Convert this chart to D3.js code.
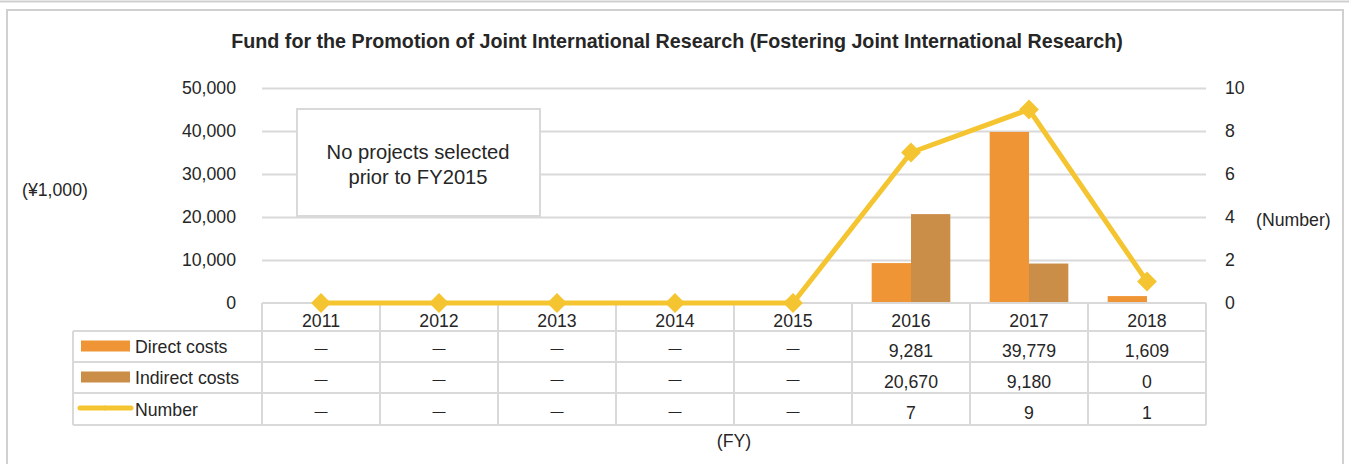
<!DOCTYPE html>
<html>
<head>
<meta charset="utf-8">
<script src="https://cdn.jsdelivr.net/npm/d3@7"></script>
<style>
    body { margin: 0; background: #fff; }
    svg { display: block; font-family: "Liberation Sans", Arial, sans-serif; }
    .tick text { fill: #262626; font-size: 17.7px; }
</style>
</head>
<body>
<svg id="chart" width="1349" height="464"></svg>
<script>
    const years = ["2011", "2012", "2013", "2014", "2015", "2016", "2017", "2018"];
    const directCosts = [null, null, null, null, null, 9281, 39779, 1609];
    const indirectCosts = [null, null, null, null, null, 20670, 9180, 0];
    const numbers = [0, 0, 0, 0, 0, 7, 9, 1];
    const leftTicks = [0, 10000, 20000, 30000, 40000, 50000];
    const rightTicks = [0, 2, 4, 6, 8, 10];

    const colors = {direct: "#EF9535", indirect: "#CB8E48", number: "#F5C531", grid: "#D9D9D9", text: "#262626"};
    const fs = 17.7;

    const svg = d3.select("#chart");
    const plot = {left: 262, right: 1206, top: 88, bottom: 303};

    // outer frame
    svg.append("line").attr("x1", 0).attr("x2", 1349).attr("y1", 1.5).attr("y2", 1.5)
        .attr("stroke", "#cfcfcf").attr("stroke-width", 2);
    svg.append("rect").attr("x", 7).attr("y", 10).attr("width", 1336).attr("height", 470)
        .attr("fill", "none").attr("stroke", "#d0d0d0").attr("stroke-width", 2);

    svg.append("text").attr("x", 677).attr("y", 48).attr("text-anchor", "middle")
        .attr("font-size", 19.7).attr("font-weight", "bold").attr("fill", colors.text)
        .text("Fund for the Promotion of Joint International Research (Fostering Joint International Research)");

    const x = d3.scaleBand().domain(years).range([plot.left, plot.right]);
    const xInner = d3.scaleBand().domain(["direct", "indirect"]).range([0, x.bandwidth()]).paddingInner(0).paddingOuter(0.5);
    const yLeft = d3.scaleLinear().domain([0, 50000]).range([plot.bottom, plot.top]);
    const yRight = d3.scaleLinear().domain([0, 10]).range([plot.bottom, plot.top]);

    // gridlines
    svg.append("g").selectAll("line").data(leftTicks.slice(1)).join("line")
        .attr("x1", plot.left).attr("x2", plot.right)
        .attr("y1", d => Math.round(yLeft(d)) + 0.5).attr("y2", d => Math.round(yLeft(d)) + 0.5)
        .attr("stroke", colors.grid).attr("stroke-width", 2);

    const leftAxis = svg.append("g").attr("transform", `translate(${plot.left - 26},0)`)
        .call(d3.axisLeft(yLeft).tickValues(leftTicks).tickSize(0).tickPadding(0).tickFormat(d3.format(",")));
    leftAxis.select(".domain").remove();

    const rightAxis = svg.append("g").attr("transform", `translate(${plot.right + 19},0)`)
        .call(d3.axisRight(yRight).tickValues(rightTicks).tickSize(0).tickPadding(0));
    rightAxis.select(".domain").remove();

    svg.append("text").attr("x", 22).attr("y", 196).attr("font-size", fs).attr("fill", colors.text).text("(¥1,000)");
    svg.append("text").attr("x", 1256).attr("y", 226).attr("font-size", fs).attr("fill", colors.text).text("(Number)");

    // annotation box
    svg.append("rect").attr("x", 297).attr("y", 109).attr("width", 243).attr("height", 107)
        .attr("fill", "#fff").attr("stroke", colors.grid).attr("stroke-width", 2);
    svg.append("text").attr("x", 418).attr("y", 159).attr("text-anchor", "middle").attr("font-size", 20.2)
        .attr("fill", colors.text).text("No projects selected");
    svg.append("text").attr("x", 418).attr("y", 184).attr("text-anchor", "middle").attr("font-size", 20.2)
        .attr("fill", colors.text).text("prior to FY2015");

    // bars
    const barData = [];
    years.forEach((yr, i) => {
        if (directCosts[i] !== null) barData.push({year: yr, key: "direct", value: directCosts[i]});
        if (indirectCosts[i] !== null) barData.push({year: yr, key: "indirect", value: indirectCosts[i]});
    });
    svg.append("g").selectAll("rect").data(barData).join("rect")
        .attr("x", d => x(d.year) + xInner(d.key))
        .attr("width", xInner.bandwidth())
        .attr("y", d => yLeft(d.value))
        .attr("height", d => plot.bottom - yLeft(d.value))
        .attr("fill", d => colors[d.key]);

    // table
    const rowTops = [303, 331, 362, 393, 425];
    const table = svg.append("g").attr("stroke", colors.grid).attr("stroke-width", 2).attr("fill", "none");
    table.append("line").attr("x1", plot.left).attr("x2", plot.right).attr("y1", 303).attr("y2", 303);
    rowTops.slice(1).forEach(y => {
        table.append("line").attr("x1", 73).attr("x2", plot.right).attr("y1", y).attr("y2", y);
    });
    years.forEach(yr => {
        table.append("line").attr("x1", x(yr)).attr("x2", x(yr)).attr("y1", 303).attr("y2", 425);
    });
    table.append("line").attr("x1", plot.right).attr("x2", plot.right).attr("y1", 303).attr("y2", 425);
    table.append("line").attr("x1", 73).attr("x2", 73).attr("y1", 331).attr("y2", 425);

    const xAxis = svg.append("g").attr("transform", `translate(0,327)`)
        .call(d3.axisBottom(x).tickSize(0).tickPadding(0));
    xAxis.select(".domain").remove();
    xAxis.selectAll(".tick text").attr("dy", 0);

    const fmt = d3.format(",");
    const rows = [
        {label: "Direct costs", values: directCosts, type: "direct"},
        {label: "Indirect costs", values: indirectCosts, type: "indirect"},
        {label: "Number", values: numbers.map((v, i) => directCosts[i] === null ? null : v), type: "number"}
    ];
    rows.forEach((row, r) => {
        const cy = (rowTops[r + 1] + rowTops[r + 2]) / 2;
        const g = svg.append("g");
        if (row.type === "number") {
            g.append("line").attr("x1", 80).attr("x2", 131).attr("y1", cy - 1).attr("y2", cy - 1)
                .attr("stroke", colors.number).attr("stroke-width", 5).attr("stroke-linecap", "round");
            g.append("path").attr("d", d3.symbol(d3.symbolDiamond2, 20)())
                .attr("transform", `translate(105,${cy - 1})`).attr("fill", colors.number);
        } else {
            g.append("rect").attr("x", 81).attr("y", cy - 6).attr("width", 49).attr("height", 11)
                .attr("fill", colors[row.type]);
        }
        g.append("text").attr("x", 135).attr("y", cy + 6.5).attr("font-size", fs).attr("fill", colors.text).text(row.label);
        g.selectAll("text.v").data(years).join("text").attr("class", "v")
            .attr("x", d => x(d) + x.bandwidth() / 2)
            .attr("y", (d, i) => row.values[i] === null ? cy + 6.5 : cy + 10)
            .attr("text-anchor", "middle")
            .attr("font-size", (d, i) => row.values[i] === null ? 13 : fs)
            .attr("fill", colors.text)
            .text((d, i) => row.values[i] === null ? "—" : fmt(row.values[i]));
    });

    svg.append("text").attr("x", 734).attr("y", 447).attr("text-anchor", "middle").attr("font-size", fs)
        .attr("fill", colors.text).text("(FY)");

    // number line
    const cx = d => x(d) + x.bandwidth() / 2;
    const line = d3.line().x((d, i) => cx(years[i])).y(d => yRight(d));
    svg.append("path").datum(numbers).attr("d", line).attr("fill", "none")
        .attr("stroke", colors.number).attr("stroke-width", 5).attr("stroke-linejoin", "round");
    svg.append("g").selectAll("path").data(numbers).join("path")
        .attr("d", d3.symbol(d3.symbolDiamond2, 250)())
        .attr("transform", (d, i) => `translate(${cx(years[i])},${yRight(d)})`)
        .attr("fill", colors.number);
</script>
</body>
</html>
